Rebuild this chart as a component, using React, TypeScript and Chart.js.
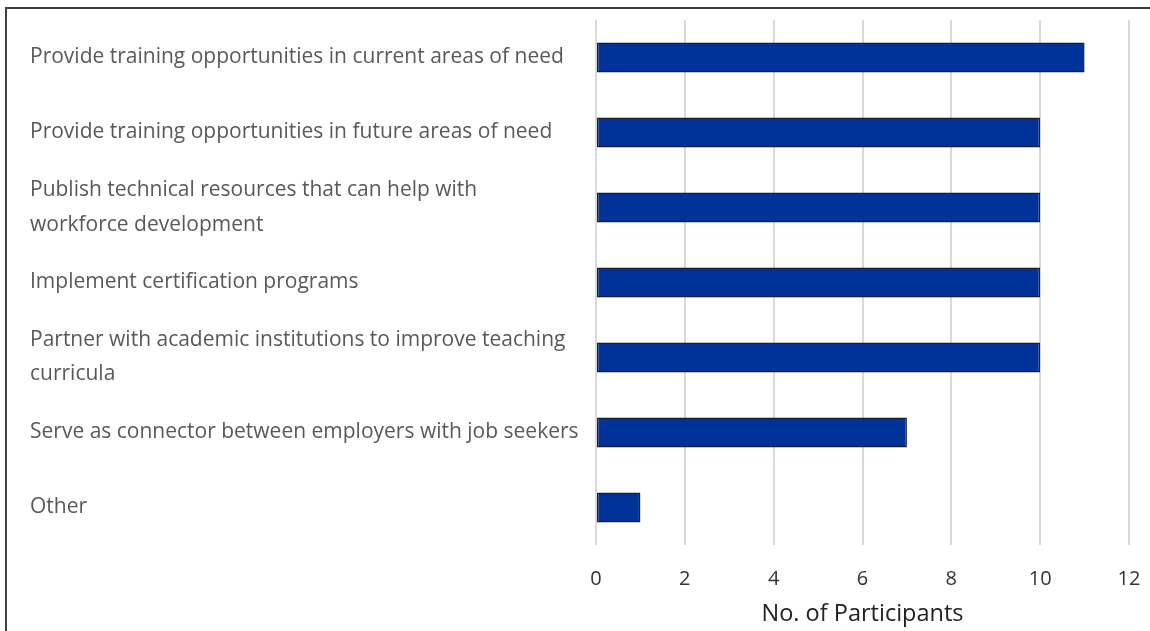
import React, { useEffect, useRef } from "react";
import { Chart, registerables } from "chart.js";

Chart.register(...registerables);

const categories: (string | string[])[] = [
  "Provide training opportunities in current areas of need",
  "Provide training opportunities in future areas of need",
  ["Publish technical resources that can help with", "workforce development"],
  "Implement certification programs",
  ["Partner with academic institutions to improve teaching", "curricula"],
  "Serve as connector between employers with job seekers",
  "Other",
];
const participants: number[] = [11, 10, 10, 10, 10, 7, 1];
const xTicks: number[] = [0, 2, 4, 6, 8, 10, 12];
const xTitle = "No. of Participants";

const FONT = "'Open Sans', Lato, sans-serif";

export default function App() {
  const ref = useRef<HTMLCanvasElement>(null);
  useEffect(() => {
    if (!ref.current) return;
    const chart = new Chart(ref.current, {
      type: "bar",
      data: {
        labels: categories,
        datasets: [
          {
            data: participants,
            backgroundColor: "#003399",
            borderColor: "#1c1c2c",
            borderWidth: 1.5,
            borderSkipped: false,
            categoryPercentage: 0.8,
            barPercentage: 0.5,
          },
        ],
      },
      options: {
        indexAxis: "y",
        animation: false,
        responsive: false,
        maintainAspectRatio: false,
        layout: { padding: { left: 30, right: 21, top: 20, bottom: 0 } },
        plugins: { legend: { display: false }, tooltip: { enabled: false } },
        scales: {
          x: {
            min: 0,
            max: 12,
            afterBuildTicks: (s: any) => {
              s.ticks = xTicks.map((v) => ({ value: v }));
            },
            afterFit: (s: any) => {
              s.height = 86;
            },
            grid: {
              color: "#d9d9d9",
              lineWidth: 2,
              drawTicks: true,
              tickLength: 22,
              tickColor: "rgba(0,0,0,0)",
            },
            border: { display: false },
            ticks: {
              padding: 0,
              color: "#333333",
              font: { family: FONT, size: 20 },
            },
            title: {
              display: true,
              text: xTitle,
              color: "#222222",
              font: { family: FONT, size: 23.5 },
              padding: { top: 0, bottom: 3 },
            },
          },
          y: {
            afterFit: (s: any) => {
              s.width = 566;
            },
            grid: { display: false, drawTicks: false },
            border: { display: false },
            ticks: {
              crossAlign: "far",
              color: "#595959",
              font: { family: FONT, size: 21, lineHeight: 1.62 },
            },
          },
        },
      },
    });
    return () => chart.destroy();
  }, []);

  return (
    <div
      style={{
        position: "fixed",
        left: 0,
        top: 0,
        width: 1150,
        height: 631,
        overflow: "hidden",
        background: "#ffffff",
      }}
    >
      <canvas
        ref={ref}
        width={1150}
        height={631}
        style={{ position: "absolute", left: 0, top: 0 }}
      />
      <div
        style={{
          position: "absolute",
          left: 5,
          top: 7,
          width: 3000,
          height: 3000,
          border: "2px solid #3f3f3f",
          pointerEvents: "none",
        }}
      />
    </div>
  );
}
